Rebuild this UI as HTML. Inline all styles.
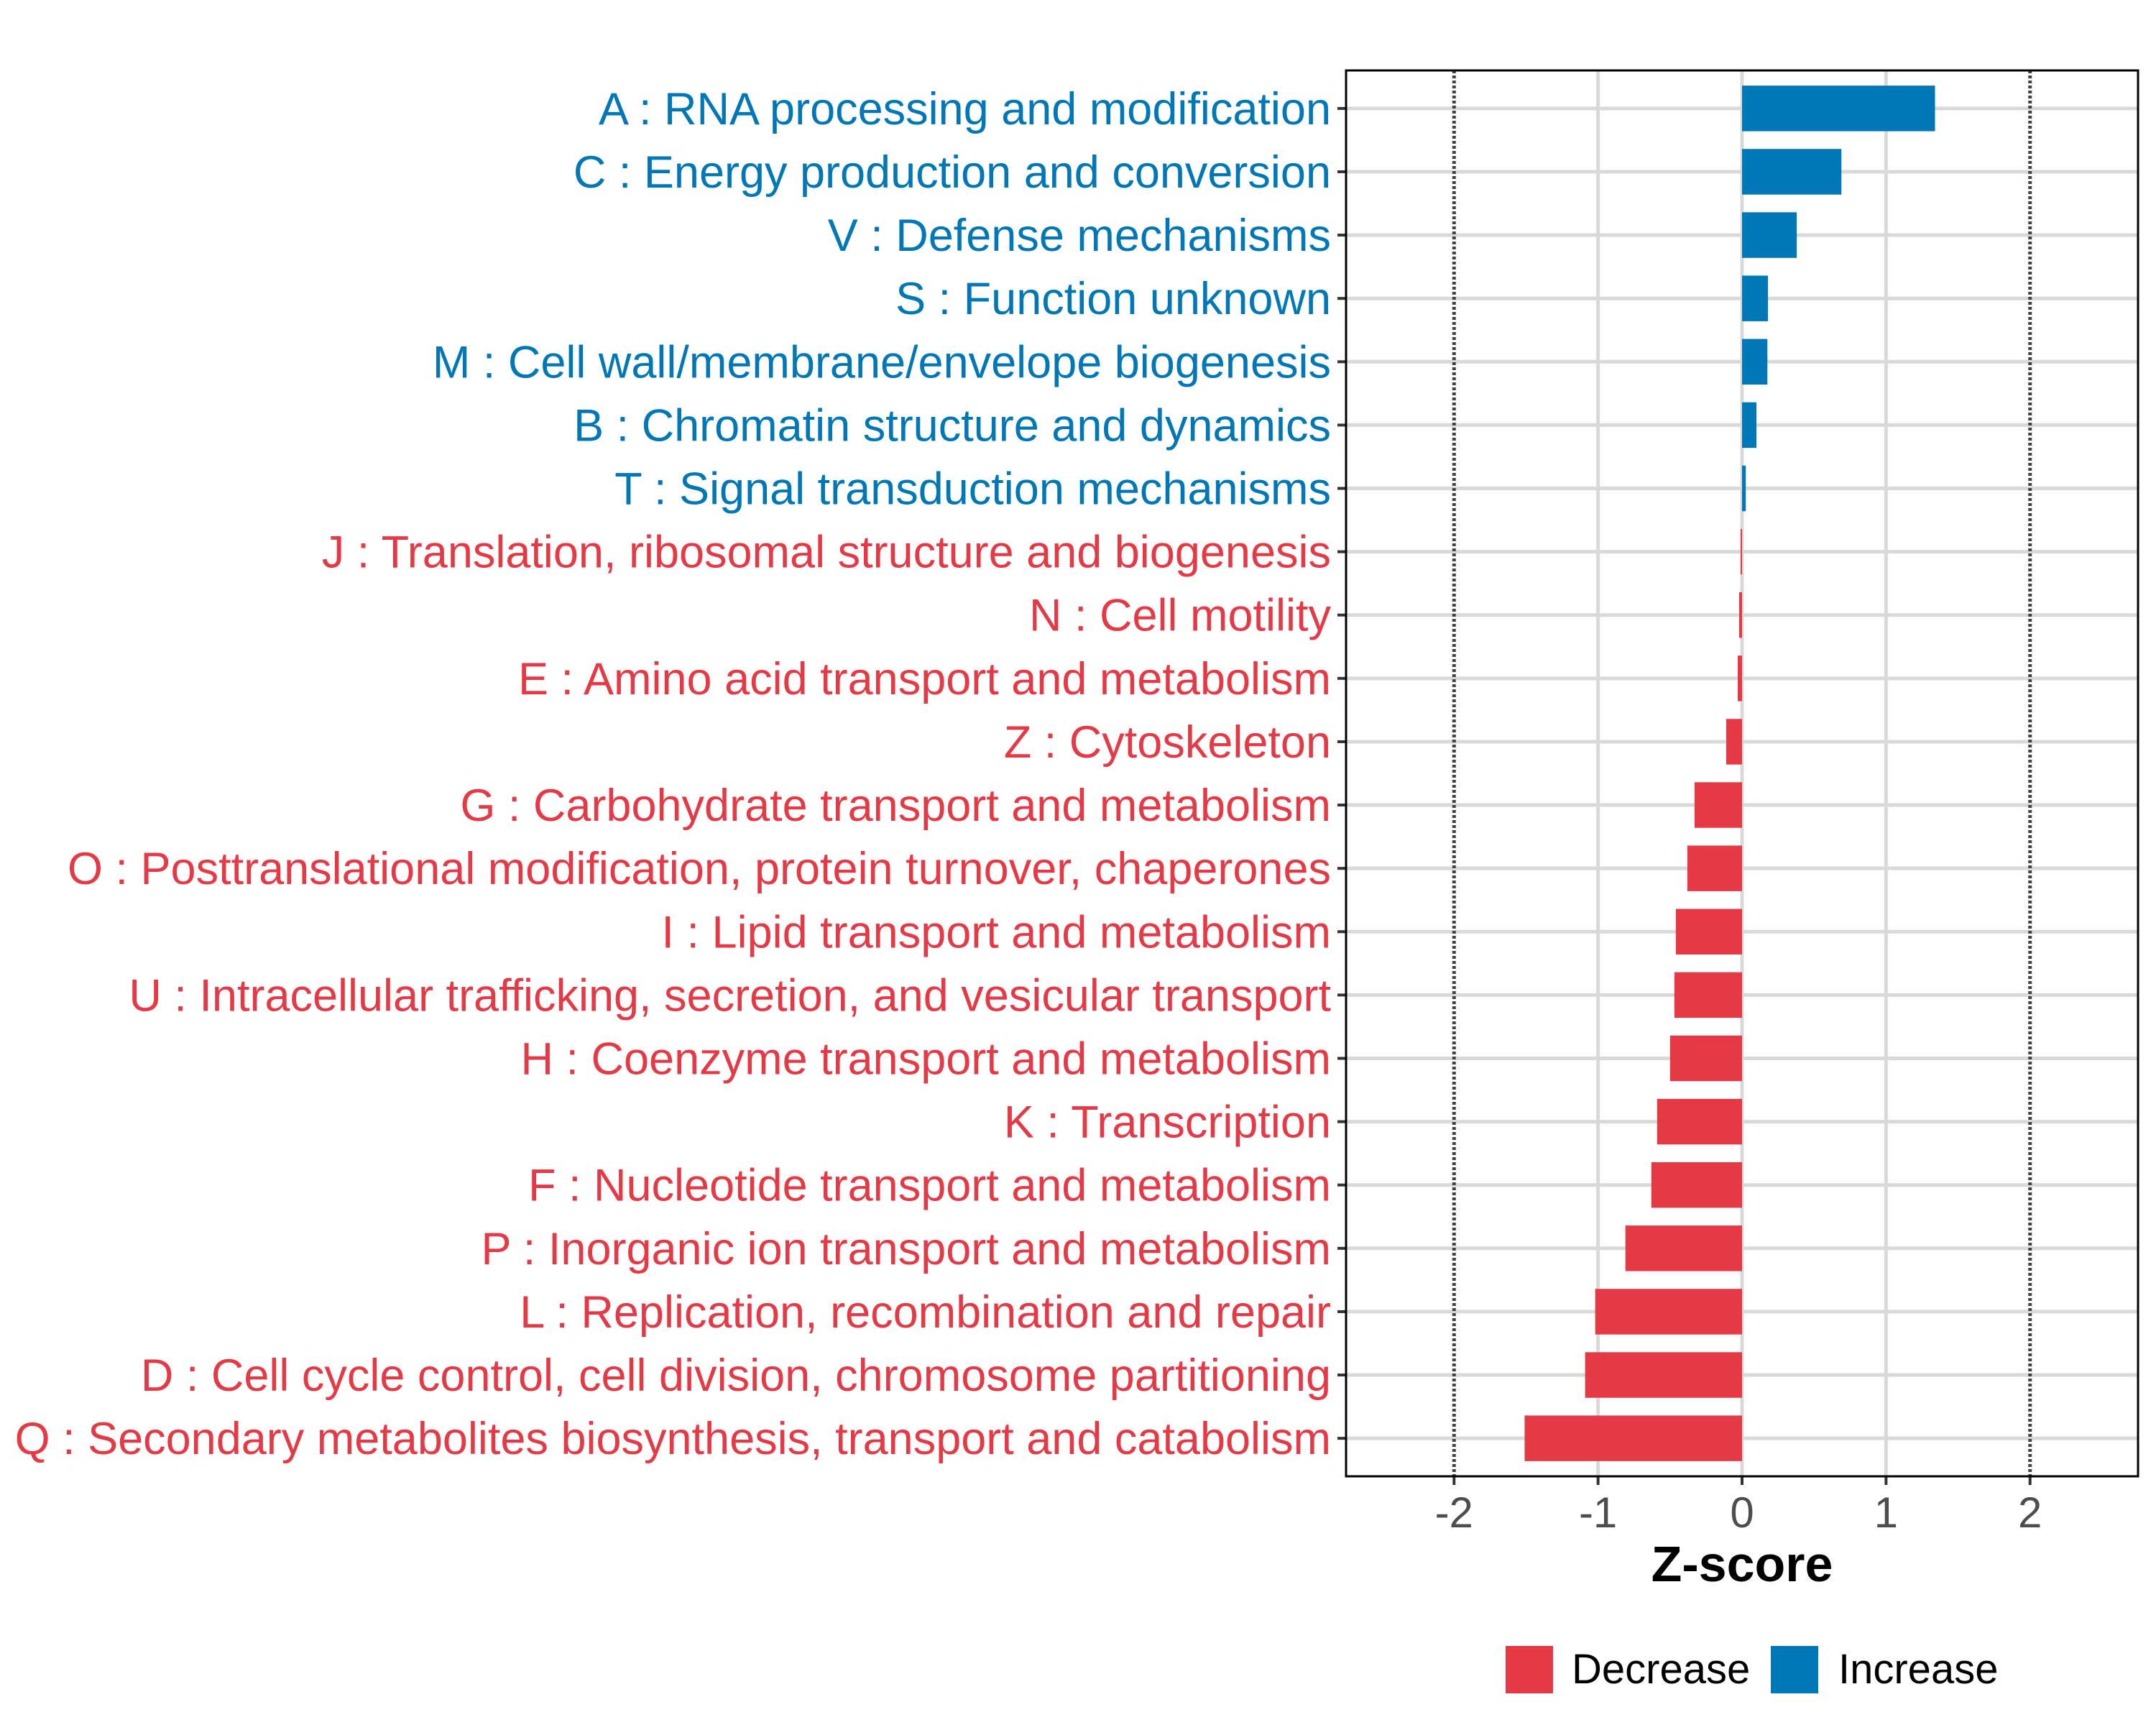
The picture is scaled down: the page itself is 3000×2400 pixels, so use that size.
<!DOCTYPE html>
<html><head><meta charset="utf-8"><style>
html,body{margin:0;padding:0;background:#fff;}
svg{display:block;font-family:"Liberation Sans",sans-serif;}
</style></head><body>
<svg id="chart" width="3000" height="2400" viewBox="0 0 3000 2400" xmlns="http://www.w3.org/2000/svg">
<rect width="3000" height="2400" fill="#fff"/>
<g id="grid"></g>
<g id="bars"></g>
<g id="ylabels"></g>
<g id="xaxis"></g>
<rect x="1873" y="98" width="1102" height="1956" fill="none" stroke="#000" stroke-width="3"/>
<text x="2424" y="2200" text-anchor="middle" font-size="70" font-weight="bold" fill="#000">Z-score</text>
<g>
  <g>
    <rect x="2095" y="2290" width="66" height="66" fill="#E63946"/>
    <text x="2187" y="2342" font-size="58" fill="#000">Decrease</text>
  </g>
  <g>
    <rect x="2464" y="2290" width="66" height="66" fill="#0077B6"/>
    <text x="2558" y="2342" font-size="58" fill="#000">Increase</text>
  </g>
</g>
</svg>
<script>
const categories = ["A : RNA processing and modification","C : Energy production and conversion","V : Defense mechanisms","S : Function unknown","M : Cell wall/membrane/envelope biogenesis","B : Chromatin structure and dynamics","T : Signal transduction mechanisms","J : Translation, ribosomal structure and biogenesis","N : Cell motility","E : Amino acid transport and metabolism","Z : Cytoskeleton","G : Carbohydrate transport and metabolism","O : Posttranslational modification, protein turnover, chaperones","I : Lipid transport and metabolism","U : Intracellular trafficking, secretion, and vesicular transport","H : Coenzyme transport and metabolism","K : Transcription","F : Nucleotide transport and metabolism","P : Inorganic ion transport and metabolism","L : Replication, recombination and repair","D : Cell cycle control, cell division, chromosome partitioning","Q : Secondary metabolites biosynthesis, transport and catabolism"];
const zscores = [1.34,0.69,0.38,0.18,0.176,0.10,0.026,-0.01,-0.02,-0.03,-0.11,-0.33,-0.38,-0.46,-0.47,-0.50,-0.59,-0.63,-0.81,-1.02,-1.09,-1.51];
const xTicks = [-2,-1,0,1,2];
const xTickLabels = ["-2","-1","0","1","2"];
const thresholds = [-2,2];

const NS="http://www.w3.org/2000/svg";
const X0=1873,X1=2975,Y0=98,Y1=2054,XMIN=-2.75,XMAX=2.75;
function xs(v){return X0+(v-XMIN)/(XMAX-XMIN)*(X1-X0);}
const step=(Y1-Y0)/(categories.length+0.2);
function ys(i){return Y0+step*(i+0.6);}
function mk(tag,attrs,parent){const e=document.createElementNS(NS,tag);for(const k in attrs)e.setAttribute(k,attrs[k]);parent.appendChild(e);return e;}
const grid=document.getElementById('grid'),bars=document.getElementById('bars'),yl=document.getElementById('ylabels'),xa=document.getElementById('xaxis');
categories.forEach((c,i)=>{
  const g=mk('line',{x1:X0,x2:X1,y1:ys(i),y2:ys(i),stroke:'#D9D9D9','stroke-width':5},grid);
  
  
});
xTicks.forEach((t)=>{
  if(thresholds.includes(t)) return;
  const g=mk('line',{x1:xs(t),x2:xs(t),y1:Y0,y2:Y1,stroke:'#D9D9D9','stroke-width':5},grid);
  
  
});
thresholds.forEach(t=>{
  const l=mk('line',{x1:xs(t),x2:xs(t),y1:Y0,y2:Y1,stroke:'#444','stroke-width':5,'stroke-dasharray':'4 3'},grid);
  
  
});
const bh=step*0.72;
categories.forEach((c,i)=>{
  const v=zscores[i];
  const a=xs(Math.min(0,v)),b=xs(Math.max(0,v));
  const col=v>=0?'#0077B6':'#E63946';
  const r=mk('rect',{x:a,y:ys(i)-bh/2,width:Math.max(b-a,1),height:bh,fill:col},bars);
  
  
  const tk=mk('line',{x1:X0-12,x2:X0,y1:ys(i),y2:ys(i),stroke:'#333','stroke-width':4},yl);
  
  
  const t=mk('text',{x:1852,y:ys(i)+22,'text-anchor':'end','font-size':63,fill:col},yl);
  t.textContent=c;
  
  
});
xTicks.forEach((t,i)=>{
  const tk=mk('line',{x1:xs(t),x2:xs(t),y1:Y1,y2:Y1+12,stroke:'#333','stroke-width':4},xa);
  
  
  const lb=mk('text',{x:xs(t),y:Y1+71,'text-anchor':'middle','font-size':60,fill:'#4D4D4D'},xa);
  lb.textContent=xTickLabels[i];
  
  
});
</script>
</body></html>
